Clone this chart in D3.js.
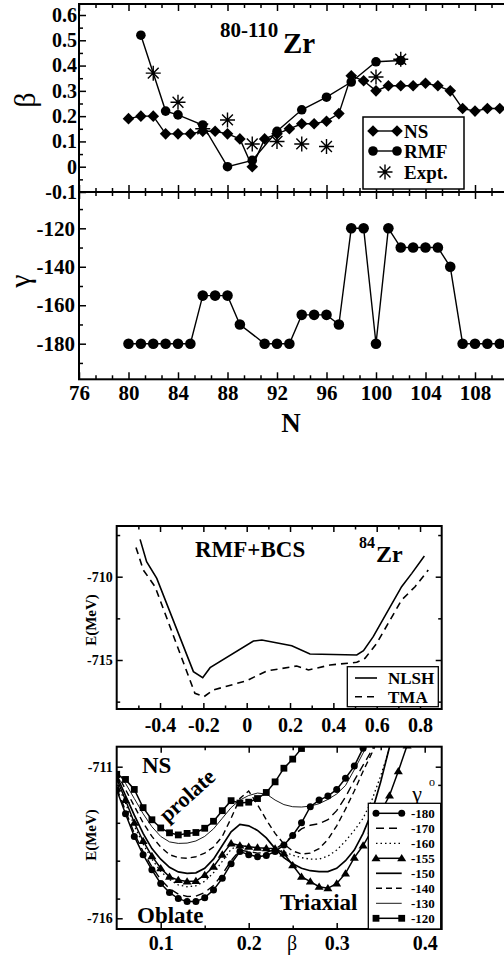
<!DOCTYPE html>
<html>
<head>
<meta charset="utf-8">
<script src="https://cdn.jsdelivr.net/npm/d3@7"></script>
<style>
body { margin: 0; background: #fff; }
</style>
</head>
<body>
<script>
// ---------- data: deformation vs neutron number ----------
var nsN    = [80,81,82,83,84,85,86,87,88,89,90,91,92,93,94,95,96,97,98,99,100,101,102,103,104,105,106,107,108,109,110];
var nsBeta = [0.19,0.20,0.20,0.13,0.13,0.13,0.14,0.14,0.13,0.11,0.00,0.11,0.13,0.15,0.17,0.17,0.18,0.21,0.36,0.34,0.30,0.32,0.32,0.32,0.33,0.32,0.30,0.23,0.22,0.23,0.23];
var rmfN    = [81,83,84,86,88,90,92,94,96,98,100,102];
var rmfBeta = [0.52,0.22,0.205,0.165,0.0,0.025,0.14,0.225,0.275,0.335,0.415,0.42];
var exptN    = [82,84,86,88,90,92,94,96,100,102];
var exptBeta = [0.37,0.255,0.15,0.185,0.09,0.10,0.09,0.08,0.355,0.425];
var gamN   = [80,81,82,83,84,85,86,87,88,89,91,92,93,94,95,96,97,98,99,100,101,102,103,104,105,106,107,108,109,110];
var gamVal = [-180,-180,-180,-180,-180,-180,-155,-155,-155,-170,-180,-180,-180,-165,-165,-165,-170,-120,-120,-180,-120,-130,-130,-130,-130,-140,-180,-180,-180,-180];
var nTicks    = [76,80,84,88,92,96,100,104,108];
var betaTicks = [-0.1,0,0.1,0.2,0.3,0.4,0.5,0.6];
var gamTicks  = [-180,-160,-140,-120];

// ---------- data: 84Zr RMF+BCS energy curves ----------
var nlshB = [-0.492,-0.462,-0.415,-0.246,-0.203,-0.169,0.031,0.07,0.208,0.292,0.508,0.539,0.584,0.715,0.762,0.82];
var nlshE = [-707.76,-709.1,-710.1,-715.7,-716.06,-715.46,-713.86,-713.8,-714.14,-714.64,-714.7,-714.44,-713.6,-710.6,-709.8,-708.76];
var tmaB = [-0.511,-0.477,-0.423,-0.262,-0.239,-0.197,-0.154,0.0,0.092,0.231,0.285,0.385,0.508,0.546,0.6,0.715,0.777,0.838];
var tmaE = [-708.24,-709.6,-710.6,-716.2,-717.0,-717.2,-716.8,-716.24,-715.66,-715.36,-715.6,-715.3,-715.14,-714.9,-714.0,-711.4,-710.6,-709.6];

// ---------- data: 84Zr NS energy curves for fixed gamma ----------
var betaGrid = [0.05,0.06,0.07,0.08,0.09,0.10,0.11,0.12,0.13,0.14,0.15,0.16,0.17,0.18,0.19,0.20,0.21,0.22,0.23,0.24,0.25,0.26,0.27,0.28,0.29,0.30,0.31,0.32,0.33,0.34,0.35,0.36,0.37,0.38];
var e180 = [-711.77,-712.55,-713.3,-713.9,-714.4,-714.85,-715.15,-715.35,-715.45,-715.45,-715.32,-715.07,-714.68,-714.2,-713.8,-713.9,-713.97,-713.93,-713.8,-713.58,-713.27,-712.85,-712.32,-712.1,-711.97,-711.75,-711.38,-710.98,-710.39];
var e170 = [-711.7,-712.45,-713.2,-713.8,-714.3,-714.72,-715.02,-715.2,-715.28,-715.27,-715.15,-714.92,-714.55,-714.1,-713.75,-713.8,-713.85,-713.83,-713.72,-713.52,-713.28,-713.05,-712.93,-712.88,-712.75,-712.45,-712.0,-711.45,-710.95,-710.45,-709.8];
var e160 = [-711.5,-712.2,-712.95,-713.55,-714.05,-714.45,-714.72,-714.9,-714.96,-714.93,-714.78,-714.5,-714.12,-713.72,-713.58,-713.65,-713.68,-713.7,-713.72,-713.8,-713.92,-714.0,-714.05,-714.05,-713.95,-713.75,-713.45,-713.1,-712.7,-712.1,-711.3,-710.4];
var e155 = [-711.4,-712.1,-712.85,-713.45,-713.95,-714.35,-714.63,-714.74,-714.79,-714.77,-714.57,-714.3,-713.9,-713.53,-713.6,-713.64,-713.67,-713.69,-713.7,-713.86,-714.25,-714.63,-714.79,-714.96,-715.01,-714.85,-714.52,-714.0,-713.6,-713.1,-712.5,-711.95,-711.15,-710.3];
var e150 = [-711.3,-711.95,-712.6,-713.2,-713.7,-714.05,-714.32,-714.47,-714.52,-714.5,-714.35,-714.05,-713.6,-713.15,-712.9,-712.95,-713.1,-713.35,-713.7,-714.0,-714.2,-714.35,-714.43,-714.46,-714.46,-714.35,-714.1,-713.75,-713.2,-712.5,-711.5,-710.35];
var e140 = [-711.2,-711.75,-712.3,-712.85,-713.3,-713.65,-713.9,-714.0,-714.02,-713.97,-713.85,-713.65,-713.3,-712.7,-712.05,-711.8,-712.25,-712.75,-713.2,-713.55,-713.78,-713.88,-713.85,-713.7,-713.4,-712.95,-712.4,-711.8,-711.15,-710.55,-709.9];
var e130 = [-711.15,-711.55,-712.05,-712.55,-712.98,-713.3,-713.48,-713.53,-713.52,-713.45,-713.3,-713.05,-712.7,-712.35,-712.1,-711.95,-711.87,-711.9,-712.1,-712.25,-712.32,-712.33,-712.3,-712.22,-712.08,-711.9,-711.62,-711.1,-710.55,-710.0];
var e120 = [-711.25,-711.42,-711.75,-712.35,-712.75,-713.02,-713.18,-713.25,-713.2,-713.17,-713.03,-712.8,-712.45,-712.12,-712.2,-712.17,-712.05,-711.85,-711.5,-711.05,-710.75,-710.4];

var serif = '"Liberation Serif","Times New Roman",Times,serif';

var svg = d3.select("body").append("svg")
    .attr("width", 504)
    .attr("height", 957)
    .attr("font-family", serif)
    .attr("font-weight", "bold");

// helper: inward ticks, optional labels
function ticks(x, y, gen, vals, size, fmt, fs, pad) {
    gen.tickValues(vals)
        .tickSizeInner(-size)
        .tickSizeOuter(0)
        .tickPadding(pad || 0)
        .tickFormat(fmt || function() { return ""; });
    var g = svg.append("g").attr("transform", "translate(" + x + "," + y + ")").call(gen);
    g.select(".domain").remove();
    g.attr("font-family", null).attr("font-size", null);
    g.selectAll(".tick line").attr("stroke", "#000").attr("stroke-width", 1.5);
    g.selectAll("text").attr("fill", "#000").attr("font-size", fs || 12).attr("font-weight", "bold");
    return g;
}
function num(d) { return d === 0 ? "0" : String(d); }

function diamond(s) { return "M0," + (-s) + "L" + s + ",0L0," + s + "L" + (-s) + ",0Z"; }
function star(r) {
    var a = r * 0.72;
    return "M0," + (-r) + "V" + r + "M" + (-r) + ",0H" + r +
        "M" + (-a) + "," + (-a) + "L" + a + "," + a + "M" + (-a) + "," + a + "L" + a + "," + (-a);
}
function tri(s) { return "M0," + (-s) + "L" + (s * 1.05) + "," + (s * 0.7) + "L" + (-s * 1.05) + "," + (s * 0.7) + "Z"; }

// =================== top: beta and gamma vs N ===================
var xN = d3.scaleLinear().domain([76, 110]).range([79, 499.75]);
var yB = d3.scaleLinear().domain([-0.1, 0.6]).range([192, 15]);
var yG = d3.scaleLinear().domain([-180, -120]).range([343.7, 228.3]);

var nMinor = [];
nTicks.concat([112]).forEach(function(t) { if (t > 76) { nMinor.push(t - 8 / 3, t - 4 / 3); } });

// lines
var lineB = function(xs, ys) {
    return d3.line().x(function(d, i) { return xN(xs[i]); }).y(function(d) { return yB(d); })(ys);
};
svg.append("path").attr("d", lineB(nsN, nsBeta)).attr("fill", "none").attr("stroke", "#000").attr("stroke-width", 1.4);
svg.append("path").attr("d", lineB(rmfN, rmfBeta)).attr("fill", "none").attr("stroke", "#000").attr("stroke-width", 1.4);
svg.append("path")
    .attr("d", d3.line().x(function(d, i) { return xN(gamN[i]); }).y(function(d) { return yG(d); })(gamVal))
    .attr("fill", "none").attr("stroke", "#000").attr("stroke-width", 1.4);

svg.append("g").selectAll("path").data(nsBeta).join("path")
    .attr("transform", function(d, i) { return "translate(" + xN(nsN[i]) + "," + yB(d) + ")"; })
    .attr("d", diamond(5.8));
svg.append("g").selectAll("circle").data(rmfBeta).join("circle")
    .attr("cx", function(d, i) { return xN(rmfN[i]); }).attr("cy", function(d) { return yB(d); }).attr("r", 4.8);
svg.append("g").selectAll("path").data(exptBeta).join("path")
    .attr("transform", function(d, i) { return "translate(" + xN(exptN[i]) + "," + yB(d) + ")"; })
    .attr("d", star(7.5)).attr("stroke", "#000").attr("stroke-width", 1.4).attr("fill", "none");
svg.append("g").selectAll("circle").data(gamVal).join("circle")
    .attr("cx", function(d, i) { return xN(gamN[i]); }).attr("cy", function(d) { return yG(d); }).attr("r", 5.3);

// frame
svg.append("rect").attr("x", 79).attr("y", 4).attr("width", 440).attr("height", 375.3)
    .attr("fill", "none").attr("stroke", "#000").attr("stroke-width", 2);
svg.append("line").attr("x1", 79).attr("x2", 519).attr("y1", 192).attr("y2", 192)
    .attr("stroke", "#000").attr("stroke-width", 2);

ticks(0, 379.3, d3.axisBottom(xN), nTicks, 7, num, 21, 6);
ticks(0, 379.3, d3.axisBottom(xN), nMinor, 4);
ticks(0, 192, d3.axisBottom(xN), nTicks, 7);
ticks(0, 192, d3.axisBottom(xN), nMinor, 4);
ticks(0, 192, d3.axisTop(xN), nTicks, 7);
ticks(0, 192, d3.axisTop(xN), nMinor, 4);
ticks(0, 4, d3.axisTop(xN), nTicks, 7);
ticks(0, 4, d3.axisTop(xN), nMinor, 4);
ticks(79, 0, d3.axisLeft(yB), betaTicks, 7, num, 20, 2);
ticks(79, 0, d3.axisLeft(yB), [-0.05,0.05,0.15,0.25,0.35,0.45,0.55], 4);
ticks(79, 0, d3.axisLeft(yG), gamTicks, 7, num, 21, 4);
ticks(79, 0, d3.axisLeft(yG), [-190,-170,-150,-130,-110], 4);

// labels
svg.append("text").attr("transform", "translate(35,100) rotate(-90)").attr("text-anchor", "middle")
    .attr("font-size", 30).attr("font-weight", "normal").text("β");
svg.append("text").attr("transform", "translate(30,281) rotate(-90)").attr("text-anchor", "middle")
    .attr("font-size", 30).attr("font-weight", "normal").text("γ");
svg.append("text").attr("x", 291).attr("y", 432).attr("text-anchor", "middle").attr("font-size", 27).text("N");
svg.append("text").attr("x", 220).attr("y", 37).attr("font-size", 21).text("80-110");
svg.append("text").attr("x", 283).attr("y", 53).attr("font-size", 29).text("Zr");

// legend (top)
var lg = svg.append("g");
lg.append("rect").attr("x", 363).attr("y", 117).attr("width", 101).attr("height", 72)
    .attr("fill", "#fff").attr("stroke", "#000").attr("stroke-width", 1.5);
[131, 151].forEach(function(yy) {
    lg.append("line").attr("x1", 373).attr("x2", 397).attr("y1", yy).attr("y2", yy).attr("stroke", "#000").attr("stroke-width", 1.4);
});
[373, 397].forEach(function(xx) {
    lg.append("path").attr("transform", "translate(" + xx + ",131)").attr("d", diamond(5.8));
    lg.append("circle").attr("cx", xx).attr("cy", 151).attr("r", 4.8);
});
lg.append("path").attr("transform", "translate(385,172)").attr("d", star(7.5)).attr("stroke", "#000").attr("stroke-width", 1.4);
[["NS", 131], ["RMF", 151], ["Expt.", 172]].forEach(function(e) {
    lg.append("text").attr("x", 404).attr("y", e[1] + 7).attr("font-size", 19).text(e[0]);
});

// =================== middle: RMF+BCS 84Zr ===================
var x3 = d3.scaleLinear().domain([-0.6, 0.9]).range([116.7, 441.7]);
var y3 = d3.scaleLinear().domain([-715, -710]).range([660, 576.7]);
svg.append("clipPath").attr("id", "c3").append("rect").attr("x", 116.7).attr("y", 526).attr("width", 325).attr("height", 183);
var line3 = function(xs, ys) {
    return d3.line().x(function(d, i) { return x3(xs[i]); }).y(function(d) { return y3(d); })(ys);
};
svg.append("path").attr("clip-path", "url(#c3)").attr("d", line3(nlshB, nlshE))
    .attr("fill", "none").attr("stroke", "#000").attr("stroke-width", 1.6);
svg.append("path").attr("clip-path", "url(#c3)").attr("d", line3(tmaB, tmaE))
    .attr("fill", "none").attr("stroke", "#000").attr("stroke-width", 1.6).attr("stroke-dasharray", "7,5");

svg.append("rect").attr("x", 116.7).attr("y", 526).attr("width", 325).attr("height", 183)
    .attr("fill", "none").attr("stroke", "#000").attr("stroke-width", 2);
var x3Major = [-0.4,-0.2,0,0.2,0.4,0.6,0.8], x3Minor = [-0.5,-0.3,-0.1,0.1,0.3,0.5,0.7];
ticks(0, 709, d3.axisBottom(x3), x3Major, 6, num, 20, 9);
ticks(0, 709, d3.axisBottom(x3), x3Minor, 3.5);
ticks(0, 526, d3.axisTop(x3), x3Major, 6);
ticks(0, 526, d3.axisTop(x3), x3Minor, 3.5);
ticks(116.7, 0, d3.axisLeft(y3), [-715, -710], 6, num, 14, 4);
ticks(116.7, 0, d3.axisLeft(y3), [-717.5, -712.5, -707.5], 3.5);
ticks(441.7, 0, d3.axisRight(y3), [-715, -710], 6);
ticks(441.7, 0, d3.axisRight(y3), [-717.5, -712.5, -707.5], 3.5);

svg.append("text").attr("transform", "translate(96,620) rotate(-90)").attr("text-anchor", "middle")
    .attr("font-size", 15).text("E(MeV)");
svg.append("text").attr("x", 195).attr("y", 557).attr("font-size", 23).text("RMF+BCS");
svg.append("text").attr("x", 359).attr("y", 548).attr("font-size", 16).text("84");
svg.append("text").attr("x", 376).attr("y", 562).attr("font-size", 24).text("Zr");

var lg3 = svg.append("g");
lg3.append("rect").attr("x", 347.3).attr("y", 666.7).attr("width", 91).attr("height", 40)
    .attr("fill", "#fff").attr("stroke", "#000").attr("stroke-width", 1.3);
lg3.append("line").attr("x1", 355).attr("x2", 377).attr("y1", 678).attr("y2", 678).attr("stroke", "#000").attr("stroke-width", 1.6);
lg3.append("line").attr("x1", 355).attr("x2", 377).attr("y1", 696.7).attr("y2", 696.7).attr("stroke", "#000").attr("stroke-width", 1.6).attr("stroke-dasharray", "7,5");
lg3.append("text").attr("x", 388).attr("y", 684).attr("font-size", 17).text("NLSH");
lg3.append("text").attr("x", 388).attr("y", 703).attr("font-size", 17).text("TMA");

// =================== bottom: NS 84Zr, fixed gamma ===================
var x4 = d3.scaleLinear().domain([0.1, 0.4]).range([160.7, 424.7]);
var y4 = d3.scaleLinear().domain([-716, -711]).range([918.3, 766.7]);
svg.append("clipPath").attr("id", "c4").append("rect").attr("x", 116.7).attr("y", 746.7).attr("width", 325).attr("height", 182.3);
var p4 = svg.append("g").attr("clip-path", "url(#c4)");

var curves = [
    { name: "-180", e: e180, dash: null, w: 1.5, mark: "circle" },
    { name: "-170", e: e170, dash: "8,5", w: 1.4 },
    { name: "-160", e: e160, dash: "1.5,3", w: 1.3 },
    { name: "-155", e: e155, dash: null, w: 1.5, mark: "tri" },
    { name: "-150", e: e150, dash: null, w: 1.7 },
    { name: "-140", e: e140, dash: "6,4", w: 1.4 },
    { name: "-130", e: e130, dash: null, w: 0.9 },
    { name: "-120", e: e120, dash: null, w: 1.5, mark: "square" }
];
var line4 = d3.line().x(function(d, i) { return x4(betaGrid[i]); }).y(function(d) { return y4(d); });

function marker(g, kind, x, y) {
    if (kind === "circle") g.append("circle").attr("cx", x).attr("cy", y).attr("r", 3.5);
    else if (kind === "square") g.append("rect").attr("x", x - 3.4).attr("y", y - 3.4).attr("width", 6.8).attr("height", 6.8);
    else if (kind === "tri") g.append("path").attr("transform", "translate(" + x + "," + y + ")").attr("d", tri(4.3));
}

curves.forEach(function(c) {
    p4.append("path").attr("d", line4(c.e)).attr("fill", "none").attr("stroke", "#000")
        .attr("stroke-width", c.w).attr("stroke-dasharray", c.dash);
    if (c.mark) {
        c.e.forEach(function(v, i) { marker(p4, c.mark, x4(betaGrid[i]), y4(v)); });
    }
});

svg.append("rect").attr("x", 116.7).attr("y", 746.7).attr("width", 325).attr("height", 182.3)
    .attr("fill", "none").attr("stroke", "#000").attr("stroke-width", 2);
var y4Minor = [-711.6, -712.85, -714.1, -715.35];
ticks(0, 929, d3.axisBottom(x4), [0.1, 0.2, 0.3, 0.4], 6, num, 20, 7);
ticks(0, 929, d3.axisBottom(x4), [0.15, 0.25, 0.35], 3.5);
ticks(0, 746.7, d3.axisTop(x4), [0.1, 0.2, 0.3, 0.4], 6);
ticks(0, 746.7, d3.axisTop(x4), [0.15, 0.25, 0.35], 3.5);
ticks(116.7, 0, d3.axisLeft(y4), [-716, -711], 6, num, 14, 4);
ticks(116.7, 0, d3.axisLeft(y4), y4Minor, 3.5);
ticks(441.7, 0, d3.axisRight(y4), [-716, -711], 6);
ticks(441.7, 0, d3.axisRight(y4), y4Minor, 3.5);

svg.append("text").attr("transform", "translate(96,835) rotate(-90)").attr("text-anchor", "middle")
    .attr("font-size", 15).text("E(MeV)");
svg.append("text").attr("x", 142).attr("y", 773).attr("font-size", 23).text("NS");
svg.append("text").attr("transform", "translate(192,801) rotate(-42)").attr("text-anchor", "middle")
    .attr("font-size", 22).text("prolate");
svg.append("text").attr("x", 137).attr("y", 923).attr("font-size", 23).text("Oblate");
svg.append("text").attr("x", 280).attr("y", 910).attr("font-size", 23).text("Triaxial");
svg.append("text").attr("x", 292).attr("y", 950).attr("text-anchor", "middle").attr("font-size", 20)
    .attr("font-weight", "normal").text("β");
svg.append("text").attr("x", 417).attr("y", 801).attr("text-anchor", "middle").attr("font-size", 22)
    .attr("font-weight", "normal").text("γ");
svg.append("text").attr("x", 429).attr("y", 786).attr("font-size", 12).attr("font-weight", "normal").text("o");

var lg4 = svg.append("g");
lg4.append("rect").attr("x", 368.3).attr("y", 803.3).attr("width", 72.4).attr("height", 125.7)
    .attr("fill", "#fff").attr("stroke", "#000").attr("stroke-width", 1.3);
curves.forEach(function(c, i) {
    var yy = 813.3 + 15 * i;
    lg4.append("line").attr("x1", 376).attr("x2", 401.7).attr("y1", yy).attr("y2", yy)
        .attr("stroke", "#000").attr("stroke-width", c.w).attr("stroke-dasharray", c.dash);
    if (c.mark) { marker(lg4, c.mark, 376, yy); marker(lg4, c.mark, 401.7, yy); }
    lg4.append("text").attr("x", 411).attr("y", yy + 4.5).attr("font-size", 13).text(c.name);
});
</script>
</body>
</html>
